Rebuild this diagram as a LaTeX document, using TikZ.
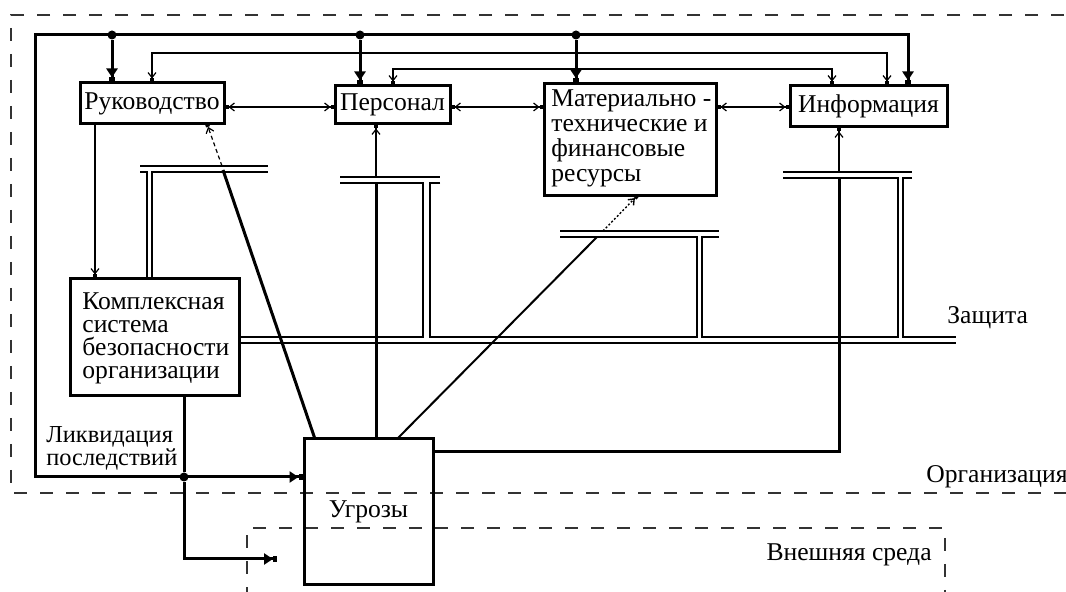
\documentclass[tikz,border=0pt]{standalone}
\usepackage{fontspec}
\setmainfont{Liberation Serif}
\usetikzlibrary{arrows.meta,calc}
\newcommand\dfont{\fontsize{12.8pt}{12.5pt}\selectfont}
\newcommand\kfont{\fontsize{12.8pt}{11.5pt}\selectfont}
\begin{document}
\begin{tikzpicture}[x=0.5pt,y=-0.5pt,
  box/.style={draw, line width=1.5pt, inner sep=0pt, font=\dfont},
  thk/.style={line width=1.5pt},
  thn/.style={line width=0.6pt},
  pipe/.style={line width=0.8pt},
  harr/.style={-{Triangle[length=4.5pt,width=5.5pt] Square[length=2pt,width=3pt]}},
  tarr/.style={-{Straight Barb[length=2.5pt,width=4pt] Square[length=1.5pt,width=2pt]}},
  barr/.style={{Square[length=1.5pt,width=2pt] Straight Barb[length=2.5pt,width=4pt]}-{Straight Barb[length=2.5pt,width=4pt] Square[length=1.5pt,width=2pt]}},
  dot/.style={circle, fill, inner sep=0pt, minimum size=4.5pt},
  bord/.style={dash pattern=on 6.5pt off 6.5pt, line width=1pt, black!80},
  lbl/.style={font=\dfont, inner sep=0pt}]
\useasboundingbox (0,0) rectangle (1066,592);

% regions
\draw[bord] (1090,15) -- (11,15) -- (11,493) -- (1090,493);
\draw[bord] (247,600) -- (247,528) -- (945,528) -- (945,600);
\node[lbl, anchor=west] (org) at (926,477) {Организация};
\node[lbl, anchor=east] (ext) at (932,555) {Внешняя среда};
\node[lbl, anchor=west] (zash) at (947,318) {Защита};

% boxes
\node[box, minimum width=72pt, minimum height=20.5pt] (ruk) at (152,103.5) {Руководство};
\node[box, minimum width=57.5pt, minimum height=19pt] (pers) at (392.5,105) {Персонал};
\node[box, minimum width=86pt, minimum height=56pt] (mat) at (630,140) {};
\node[lbl, align=left, anchor=north west] (matt) at (551,89) {Материально -\\технические и\\финансовые\\ресурсы};
\node[box, minimum width=78.5pt, minimum height=20.5pt] (info) at (868.5,106.5) {Информация};
\node[box, minimum width=84.5pt, minimum height=58.5pt] (komp) at (154.5,337.5) {};
\node[lbl, font=\kfont, align=left, anchor=west] (kompt) at (82,338) {Комплексная\\система\\безопасности\\организации};
\node[box, minimum width=64.5pt, minimum height=73pt] (ugr) at (368.5,512) {Угрозы};
\node[lbl, font=\fontsize{12.2pt}{11.5pt}\selectfont, align=left, anchor=west] (likv) at (46,448.5) {Ликвидация\\последствий};

% bus coordinates
\coordinate (c1) at (35,35);
\coordinate (c2) at (35,477);
\coordinate (c3) at (908,35);
\node[dot] (d1) at (112,35) {};
\node[dot] (d2) at (360,35) {};
\node[dot] (d3) at (576,35) {};
\node[dot] (d4) at (184,477) {};
\coordinate (c4) at (184,559);
\coordinate (c5) at (277,559);

% thick bus
\draw[thk, harr] (c2) -- (c1) -- (c3) -- (info.north -| c3);
\draw[thk, harr] (d1) -- (ruk.north -| d1);
\draw[thk, harr] (d2) -- (pers.north -| d2);
\draw[thk, harr] (d3) -- (mat.north -| d3);
\draw[thk, harr] (c1) -- (c2) -- (ugr.west |- c2);
\draw[thk] (komp.south -| d4) -- (d4);
\draw[thk, harr] (d4) -- (c4) -- (c5);

% thin links
\coordinate (l1a) at (152,53);
\coordinate (l1b) at (887,53);
\coordinate (l2a) at (393,69);
\coordinate (l2b) at (832,69);
\draw[thn, barr] (ruk.north -| l1a) -- (l1a) -- (l1b) -- (info.north -| l1b);
\draw[thn, barr] (pers.north -| l2a) -- (l2a) -- (l2b) -- (info.north -| l2b);
\coordinate (hy) at (0,107);
\draw[thn, barr] (ruk.east |- hy) -- (pers.west |- hy);
\draw[thn, barr] (pers.east |- hy) -- (mat.west |- hy);
\draw[thn, barr] (mat.east |- hy) -- (info.west |- hy);
\coordinate (kx) at (95,0);
\draw[thn, tarr] (ruk.south -| kx) -- (komp.north -| kx);

% protection pipes
\draw[pipe] (140,166) -- (268,166);
\draw[pipe] (147,279) -- (147,172) -- (140,172);
\draw[pipe] (152,279) -- (152,172) -- (268,172);
\draw[pipe] (340,177) -- (440,177);
\draw[pipe] (239,337) -- (423,337) -- (423,183) -- (340,183);
\draw[pipe] (440,183) -- (430,183) -- (430,337) -- (697,337) -- (697,237) -- (560,237);
\draw[pipe] (560,231) -- (719,231);
\draw[pipe] (719,237) -- (702,237) -- (702,337) -- (898,337) -- (898,178) -- (783,178);
\draw[pipe] (783,172) -- (912,172);
\draw[pipe] (912,178) -- (903,178) -- (903,337) -- (956,337);
\draw[pipe] (239,343) -- (956,343);

% threats
\coordinate (t1) at (315,439);
\coordinate (t1e) at (223,170);
\coordinate (t1r) at (222,166);
\coordinate (t2) at (376,439);
\coordinate (t2e) at (376,183);
\coordinate (t2r) at (376,177);
\coordinate (t3) at (397,439);
\coordinate (t3e) at (597,237);
\coordinate (t3r) at (603,231);
\coordinate (t4) at (433,452);
\coordinate (t4c) at (839,452);
\coordinate (t4e) at (839,178);
\coordinate (t4r) at (839,172);
\draw[thk] (t1) -- (t1e);
\draw[thn, dash pattern=on 2pt off 1.5pt, tarr] (t1r) -- (207,124);
\draw[thk] (t2) -- (t2e);
\draw[thn, tarr] (t2r) -- (pers.south -| t2r);
\draw[line width=1pt] (t3) -- (t3e);
\draw[line width=0.7pt, dash pattern=on 1pt off 1pt, tarr] (t3r) -- (637,196);
\draw[thk] (t4) -- (t4c) -- (t4e);
\draw[thn, tarr] (t4r) -- (info.south -| t4r);
\end{tikzpicture}
\end{document}
